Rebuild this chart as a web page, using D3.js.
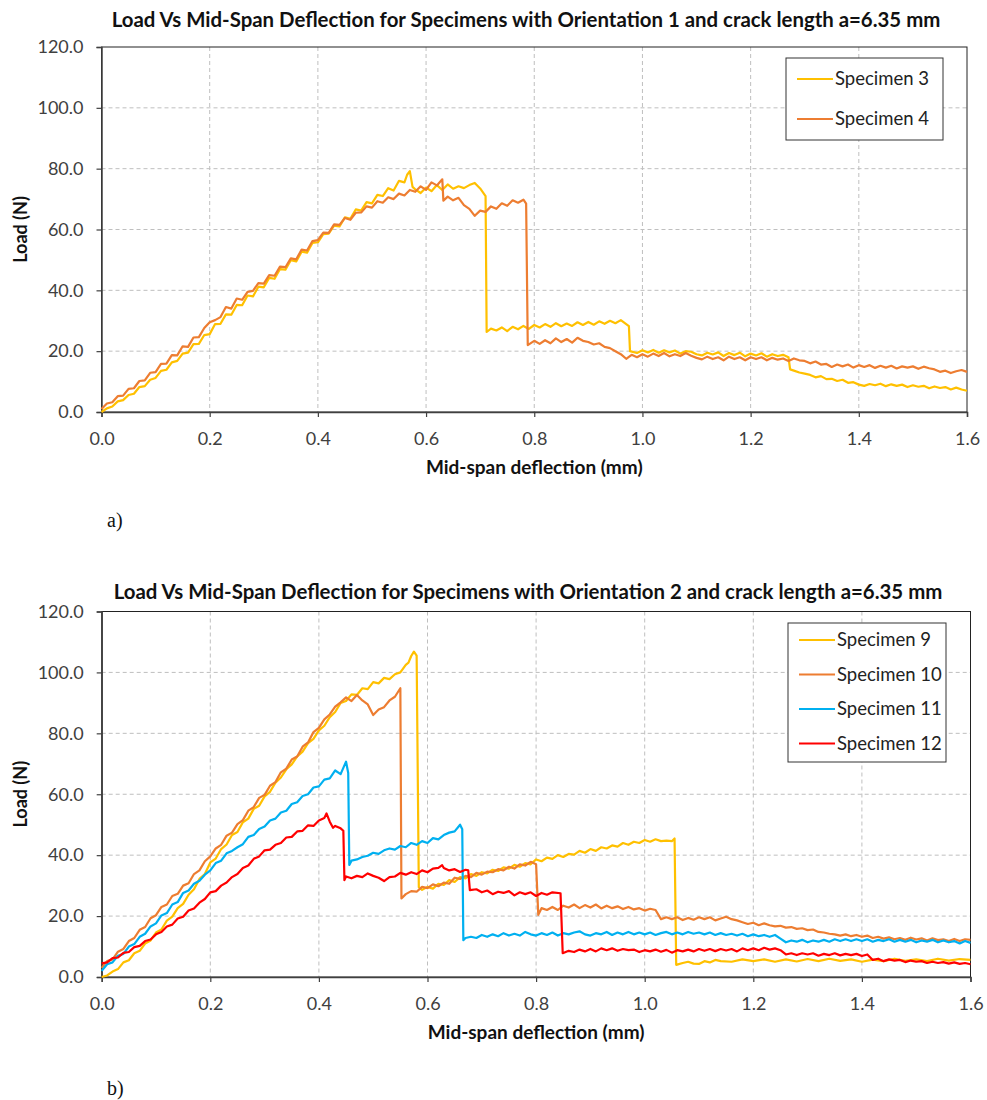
<!DOCTYPE html>
<html>
<head>
<meta charset="utf-8">
<script src="https://cdn.jsdelivr.net/npm/d3@7"></script>
<style>
  body { margin: 0; background: #fff; }
  svg { display: block; }
  .tick text { font-family: Lato, "Open Sans", sans-serif; font-size: 18px; fill: #404040; }
</style>
</head>
<body>
<div id="chart"></div>
<script>
// Load vs mid-span deflection, two panels (a and b)

const width = 987;
const height = 1100;

// x ticks and y ticks shared by both panels
const xTicks = [0, 0.2, 0.4, 0.6, 0.8, 1.0, 1.2, 1.4, 1.6];
const yTicks = [0, 20, 40, 60, 80, 100, 120];

// panel a: orientation 1
const namesA = ["Specimen 3", "Specimen 4"];
const colorsA = ["#FFC000", "#ED7D31"];

const spec3 = [
  [0,0.0],[0.01,1.2],[0.02,1.8],[0.03,3.5],[0.04,3.9],[0.05,5.6],[0.06,6.0],[0.07,8.2],
  [0.08,8.5],[0.09,10.6],[0.10,11.2],[0.11,13.5],[0.12,13.9],[0.13,16.3],[0.14,16.8],[0.15,19.2],
  [0.16,19.5],[0.17,22.3],[0.18,22.4],[0.19,25.3],[0.20,25.6],[0.21,28.9],[0.22,29.0],[0.23,32.1],
  [0.24,32.0],[0.25,35.2],[0.26,35.1],[0.27,38.3],[0.28,38.0],[0.29,41.2],[0.30,41.0],[0.31,44.1],
  [0.32,43.8],[0.33,47.0],[0.34,46.8],[0.35,49.9],[0.36,49.5],[0.37,52.7],[0.38,52.4],[0.39,55.6],
  [0.40,55.8],[0.41,58.5],[0.42,58.6],[0.43,61.3],[0.44,61.0],[0.45,64.0],[0.46,63.5],[0.47,66.6],
  [0.48,66.2],[0.49,69.0],[0.50,68.6],[0.51,71.4],[0.52,71.0],[0.53,73.6],[0.54,72.8],[0.55,76.0],
  [0.56,75.5],[0.565,78.0],[0.57,79.2],[0.575,74.0],[0.58,73.2],[0.59,72.0],[0.60,73.8],[0.61,72.6],
  [0.62,74.6],[0.63,73.0],[0.64,74.8],[0.65,73.4],[0.66,74.2],[0.67,73.6],[0.68,74.6],[0.69,75.3],
  [0.70,73.5],[0.71,71.0],[0.712,26.3],[0.72,27.4],[0.73,26.8],[0.74,27.8],[0.75,26.6],[0.76,28.0],
  [0.77,27.2],[0.78,28.3],[0.79,27.3],[0.80,28.6],[0.81,27.8],[0.82,28.9],[0.83,28.0],[0.84,29.2],
  [0.85,28.2],[0.86,29.1],[0.87,28.3],[0.88,29.5],[0.89,28.6],[0.90,29.6],[0.91,28.7],[0.92,29.8],
  [0.93,29.0],[0.94,30.0],[0.95,29.2],[0.96,30.2],[0.975,28.2],[0.977,20.0],[0.99,19.4],[1.00,20.3],
  [1.01,19.6],[1.02,20.4],[1.03,19.5],[1.04,20.3],[1.05,19.6],[1.06,20.2],[1.07,19.2],[1.08,20.0],
  [1.09,19.8],[1.10,19.0],[1.11,18.6],[1.12,19.5],[1.13,18.9],[1.14,19.6],[1.15,18.4],[1.16,19.4],
  [1.17,18.7],[1.18,19.5],[1.19,18.3],[1.20,19.2],[1.21,18.6],[1.22,19.3],[1.23,18.2],[1.24,19.0],
  [1.25,18.4],[1.26,18.8],[1.27,18.0],[1.273,14.0],[1.28,13.6],[1.29,13.0],[1.30,12.6],[1.31,12.2],
  [1.32,11.4],[1.33,11.8],[1.34,10.8],[1.35,10.9],[1.36,10.2],[1.37,10.6],[1.38,9.6],[1.39,9.8],
  [1.40,9.0],[1.41,8.6],[1.42,9.2],[1.43,8.8],[1.44,9.3],[1.45,8.5],[1.46,9.1],[1.47,8.6],
  [1.48,9.0],[1.49,8.2],[1.50,8.8],[1.51,8.3],[1.52,8.6],[1.53,7.8],[1.54,8.4],[1.55,7.9],
  [1.56,8.2],[1.57,7.4],[1.58,8.0],[1.59,7.4],[1.60,7.0]
];

const spec4 = [
  [0,1.0],[0.01,2.8],[0.02,3.2],[0.03,5.2],[0.04,5.4],[0.05,7.6],[0.06,7.8],[0.07,10.2],
  [0.08,10.4],[0.09,12.9],[0.10,13.1],[0.11,15.8],[0.12,15.9],[0.13,18.7],[0.14,18.6],[0.15,21.6],
  [0.16,21.4],[0.17,24.5],[0.18,24.6],[0.19,27.6],[0.20,29.5],[0.21,30.2],[0.22,31.2],[0.23,34.5],
  [0.24,34.0],[0.25,37.3],[0.26,36.9],[0.27,39.5],[0.28,39.8],[0.29,42.4],[0.30,42.2],[0.31,45.0],
  [0.32,44.8],[0.33,47.8],[0.34,47.6],[0.35,50.5],[0.36,50.2],[0.37,53.4],[0.38,53.1],[0.39,56.2],
  [0.40,56.5],[0.41,59.0],[0.42,58.9],[0.43,61.7],[0.44,61.5],[0.45,63.8],[0.46,63.2],[0.47,65.5],
  [0.48,65.6],[0.49,67.6],[0.50,67.2],[0.51,69.3],[0.52,68.8],[0.53,70.6],[0.54,70.0],[0.55,71.8],
  [0.56,71.2],[0.57,73.0],[0.58,72.4],[0.59,74.2],[0.60,73.0],[0.61,75.5],[0.62,74.5],[0.63,76.5],
  [0.632,69.5],[0.64,70.8],[0.65,69.6],[0.66,70.4],[0.67,68.0],[0.68,66.8],[0.69,64.5],[0.70,66.2],
  [0.71,65.8],[0.72,67.6],[0.73,66.8],[0.74,68.6],[0.75,67.8],[0.76,69.6],[0.77,68.8],[0.78,69.8],
  [0.785,68.5],[0.788,22.0],[0.80,23.4],[0.81,22.4],[0.82,23.6],[0.83,22.6],[0.84,24.2],[0.85,23.0],
  [0.86,24.0],[0.87,22.8],[0.88,24.4],[0.89,23.4],[0.90,23.0],[0.91,22.2],[0.92,22.6],[0.93,21.4],
  [0.94,21.0],[0.95,20.0],[0.96,19.0],[0.97,17.5],[0.98,18.8],[0.99,18.0],[1.00,19.0],[1.01,18.2],
  [1.02,19.2],[1.03,18.4],[1.04,19.4],[1.05,18.3],[1.06,19.0],[1.07,18.4],[1.08,19.4],[1.09,18.5],
  [1.10,17.8],[1.11,17.3],[1.12,18.2],[1.13,17.4],[1.14,18.0],[1.15,17.0],[1.16,18.2],[1.17,17.4],
  [1.18,18.0],[1.19,17.0],[1.20,18.0],[1.21,17.4],[1.22,18.0],[1.23,17.0],[1.24,17.8],[1.25,17.2],
  [1.26,17.6],[1.27,16.8],[1.28,17.6],[1.29,17.0],[1.30,16.8],[1.31,16.0],[1.32,16.6],[1.33,15.6],
  [1.34,15.8],[1.35,14.8],[1.36,15.6],[1.37,15.0],[1.38,15.6],[1.39,14.6],[1.40,15.4],[1.41,14.8],
  [1.42,15.4],[1.43,14.5],[1.44,15.2],[1.45,14.6],[1.46,15.2],[1.47,14.3],[1.48,15.0],[1.49,14.6],
  [1.50,15.0],[1.51,14.2],[1.52,14.9],[1.53,14.4],[1.54,14.0],[1.55,13.2],[1.56,13.6],[1.57,12.8],
  [1.58,13.4],[1.59,13.8],[1.60,13.2]
];

// panel b: orientation 2
const namesB = ["Specimen 9", "Specimen 10", "Specimen 11", "Specimen 12"];
const colorsB = ["#FFC000", "#ED7D31", "#00B0F0", "#FF0000"];

const spec9 = [
  [0,0.0],[0.01,0.5],[0.02,1.8],[0.03,2.6],[0.04,4.8],[0.05,5.5],[0.06,7.8],[0.07,8.6],
  [0.08,11.0],[0.09,12.0],[0.10,14.6],[0.11,15.6],[0.12,18.5],[0.13,19.8],[0.14,22.6],[0.15,24.0],
  [0.16,27.0],[0.17,28.8],[0.18,32.2],[0.19,33.8],[0.20,37.6],[0.21,38.9],[0.22,42.0],[0.23,43.5],
  [0.24,46.6],[0.25,47.6],[0.26,50.8],[0.27,52.0],[0.28,55.2],[0.29,56.2],[0.30,59.3],[0.31,60.8],
  [0.32,63.8],[0.33,65.5],[0.34,68.2],[0.35,69.8],[0.36,72.4],[0.37,74.0],[0.38,76.8],[0.39,78.2],
  [0.40,81.0],[0.41,82.5],[0.42,85.3],[0.43,87.0],[0.44,90.0],[0.45,90.6],[0.46,92.8],[0.47,92.6],
  [0.48,94.8],[0.49,94.5],[0.50,96.8],[0.51,96.4],[0.52,98.2],[0.53,97.8],[0.54,99.4],[0.55,100.0],
  [0.56,102.5],[0.565,103.2],[0.57,105.4],[0.575,106.8],[0.58,105.5],[0.584,29.5],[0.59,28.6],
  [0.60,29.6],[0.61,29.0],[0.62,30.6],[0.63,30.2],[0.64,31.8],[0.65,31.2],[0.66,32.8],[0.67,32.4],
  [0.68,33.8],[0.69,33.2],[0.70,34.4],[0.71,34.0],[0.72,35.2],[0.73,34.8],[0.74,36.0],[0.75,35.6],
  [0.76,36.8],[0.77,36.2],[0.78,37.4],[0.79,37.0],[0.80,38.6],[0.81,38.0],[0.82,39.2],[0.83,38.8],
  [0.84,40.0],[0.85,39.4],[0.86,40.4],[0.87,40.2],[0.88,41.4],[0.89,40.8],[0.90,42.0],[0.91,41.4],
  [0.92,42.6],[0.93,42.2],[0.94,43.2],[0.95,42.8],[0.96,44.0],[0.97,43.4],[0.98,44.4],[0.99,44.0],
  [1.00,45.0],[1.01,44.4],[1.02,45.2],[1.03,44.6],[1.04,44.8],[1.05,44.6],[1.055,45.5],[1.058,4.0],
  [1.07,4.6],[1.08,5.0],[1.09,4.4],[1.10,4.3],[1.11,5.2],[1.12,4.8],[1.13,5.6],[1.14,5.2],
  [1.16,5.0],[1.18,5.8],[1.20,5.2],[1.22,5.8],[1.24,5.0],[1.26,5.8],[1.28,5.1],[1.30,5.9],
  [1.32,5.2],[1.34,6.0],[1.36,5.3],[1.38,5.8],[1.40,5.0],[1.42,5.7],[1.44,5.2],[1.46,6.0],
  [1.48,5.3],[1.50,5.8],[1.52,5.2],[1.54,6.0],[1.56,5.4],[1.58,5.9],[1.60,5.6]
];

const spec10 = [
  [0,3.0],[0.01,5.2],[0.02,5.8],[0.03,8.3],[0.04,9.2],[0.05,11.8],[0.06,12.8],[0.07,15.5],
  [0.08,16.4],[0.09,19.3],[0.10,20.3],[0.11,23.0],[0.12,23.8],[0.13,26.6],[0.14,27.3],[0.15,30.0],
  [0.16,30.8],[0.17,33.8],[0.18,35.0],[0.19,38.0],[0.20,39.6],[0.21,42.2],[0.22,43.4],[0.23,46.4],
  [0.24,47.4],[0.25,50.2],[0.26,51.5],[0.27,54.6],[0.28,55.8],[0.29,58.8],[0.30,59.8],[0.31,62.8],
  [0.32,64.0],[0.33,67.2],[0.34,68.4],[0.35,71.4],[0.36,72.4],[0.37,75.6],[0.38,77.0],[0.39,80.4],
  [0.40,81.8],[0.41,84.6],[0.42,86.2],[0.43,88.8],[0.44,90.2],[0.45,91.8],[0.46,90.6],[0.47,92.6],
  [0.48,90.8],[0.49,89.5],[0.50,86.0],[0.51,87.8],[0.52,88.6],[0.53,90.8],[0.54,92.0],[0.55,94.8],
  [0.552,25.8],[0.56,27.2],[0.57,28.2],[0.58,28.0],[0.59,29.6],[0.60,29.2],[0.61,30.4],[0.62,29.8],
  [0.63,31.0],[0.64,30.6],[0.65,32.6],[0.66,32.2],[0.67,33.2],[0.68,32.8],[0.69,34.2],[0.70,33.6],
  [0.71,34.6],[0.72,34.4],[0.73,35.4],[0.74,35.0],[0.75,36.2],[0.76,35.6],[0.77,37.0],[0.78,36.6],
  [0.79,37.8],[0.80,37.0],[0.804,20.4],[0.81,22.6],[0.82,22.0],[0.83,23.0],[0.84,22.0],[0.85,23.4],
  [0.86,22.8],[0.87,23.8],[0.88,22.6],[0.89,23.6],[0.90,22.8],[0.91,23.8],[0.92,22.5],[0.93,23.4],
  [0.94,22.6],[0.95,23.2],[0.96,22.3],[0.97,23.0],[0.98,22.2],[0.99,22.6],[1.00,21.8],[1.01,22.4],
  [1.02,22.0],[1.03,19.0],[1.04,19.6],[1.05,19.0],[1.06,19.6],[1.07,18.7],[1.08,19.4],[1.09,18.8],
  [1.10,19.6],[1.11,19.0],[1.12,19.6],[1.13,18.6],[1.14,19.2],[1.15,19.8],[1.16,19.0],[1.17,18.6],
  [1.18,18.0],[1.19,17.4],[1.20,17.8],[1.21,17.0],[1.22,17.6],[1.23,17.0],[1.24,16.6],[1.25,16.8],
  [1.26,16.2],[1.27,16.4],[1.28,15.8],[1.29,16.0],[1.30,15.4],[1.31,15.6],[1.32,14.8],[1.33,14.6],
  [1.34,14.2],[1.35,14.0],[1.36,13.6],[1.37,14.0],[1.38,13.4],[1.39,13.8],[1.40,13.2],[1.41,13.6],
  [1.42,12.8],[1.43,13.2],[1.44,12.6],[1.45,13.0],[1.46,12.4],[1.47,12.8],[1.48,12.2],[1.49,12.9],
  [1.50,12.3],[1.51,12.7],[1.52,12.0],[1.53,12.7],[1.54,12.1],[1.55,12.4],[1.56,11.8],[1.57,12.5],
  [1.58,11.8],[1.59,12.4],[1.60,12.2]
];

const spec11 = [
  [0,2.0],[0.01,4.2],[0.02,4.8],[0.03,7.0],[0.04,7.6],[0.05,10.0],[0.06,10.8],[0.07,13.2],
  [0.08,14.2],[0.09,16.6],[0.10,17.6],[0.11,20.2],[0.12,21.0],[0.13,23.8],[0.14,24.6],[0.15,27.6],
  [0.16,28.4],[0.17,30.6],[0.18,31.6],[0.19,33.6],[0.20,35.0],[0.21,37.4],[0.22,38.2],[0.23,40.6],
  [0.24,41.4],[0.25,42.6],[0.26,43.6],[0.27,46.0],[0.28,46.6],[0.29,48.6],[0.30,49.4],[0.31,51.4],
  [0.32,52.0],[0.33,54.0],[0.34,54.6],[0.35,56.8],[0.36,57.4],[0.37,59.4],[0.38,60.0],[0.39,62.2],
  [0.40,62.6],[0.41,64.8],[0.42,65.2],[0.43,67.8],[0.44,66.6],[0.45,70.7],[0.454,67.0],[0.456,36.8],
  [0.46,38.2],[0.47,38.6],[0.48,39.4],[0.49,39.8],[0.50,40.8],[0.51,40.4],[0.52,41.6],[0.53,42.2],
  [0.54,41.8],[0.55,43.0],[0.56,42.6],[0.57,44.0],[0.58,43.4],[0.59,44.6],[0.60,44.0],[0.61,45.6],
  [0.62,45.2],[0.63,46.6],[0.64,47.4],[0.65,47.8],[0.66,50.0],[0.664,48.5],[0.666,12.1],[0.67,12.8],
  [0.68,13.2],[0.69,12.8],[0.70,13.8],[0.71,13.2],[0.72,14.0],[0.73,13.4],[0.74,14.4],[0.75,13.6],
  [0.76,14.2],[0.77,13.6],[0.78,14.8],[0.79,14.0],[0.80,13.6],[0.81,14.4],[0.82,13.8],[0.83,14.6],
  [0.84,13.6],[0.85,14.4],[0.86,14.0],[0.87,14.6],[0.88,15.0],[0.89,14.0],[0.90,13.6],[0.91,14.4],
  [0.92,14.0],[0.93,14.8],[0.94,13.8],[0.95,14.6],[0.96,14.0],[0.97,14.8],[0.98,14.0],[0.99,14.6],
  [1.00,14.0],[1.01,14.6],[1.02,13.8],[1.03,14.4],[1.04,14.8],[1.05,14.0],[1.06,14.6],[1.07,14.0],
  [1.08,14.8],[1.09,14.2],[1.10,14.6],[1.11,14.0],[1.12,14.6],[1.13,13.8],[1.14,14.4],[1.15,13.8],
  [1.16,14.2],[1.17,13.6],[1.18,14.2],[1.19,13.4],[1.20,14.0],[1.21,13.4],[1.22,13.8],[1.23,13.2],
  [1.24,13.8],[1.25,12.6],[1.26,11.4],[1.27,12.0],[1.28,11.6],[1.29,12.2],[1.30,11.4],[1.31,12.0],
  [1.32,11.6],[1.33,12.2],[1.34,11.6],[1.35,12.4],[1.36,11.8],[1.37,12.4],[1.38,11.8],[1.39,12.4],
  [1.40,11.8],[1.41,12.4],[1.42,11.6],[1.43,12.2],[1.44,11.8],[1.45,12.4],[1.46,11.6],[1.47,12.2],
  [1.48,11.6],[1.49,12.2],[1.50,11.4],[1.51,12.0],[1.52,11.6],[1.53,12.2],[1.54,11.4],[1.55,12.0],
  [1.56,11.4],[1.57,11.8],[1.58,11.0],[1.59,11.8],[1.60,11.2]
];

const spec12 = [
  [0,4.5],[0.01,4.8],[0.02,6.2],[0.03,6.4],[0.04,7.9],[0.05,8.2],[0.06,9.8],[0.07,10.2],
  [0.08,11.8],[0.09,12.3],[0.10,14.0],[0.11,14.8],[0.12,16.6],[0.13,17.2],[0.14,19.2],[0.15,19.8],
  [0.16,21.8],[0.17,22.5],[0.18,24.4],[0.19,25.6],[0.20,27.8],[0.21,28.2],[0.22,30.0],[0.23,31.0],
  [0.24,32.8],[0.25,33.8],[0.26,35.8],[0.27,36.6],[0.28,38.8],[0.29,39.6],[0.30,41.6],[0.31,41.8],
  [0.32,43.4],[0.33,44.0],[0.34,45.8],[0.35,46.0],[0.36,47.8],[0.37,48.0],[0.38,49.8],[0.39,49.6],
  [0.40,51.4],[0.41,52.2],[0.414,53.7],[0.42,51.0],[0.426,49.0],[0.43,49.6],[0.44,48.8],[0.445,48.0],
  [0.447,31.8],[0.45,33.0],[0.46,32.4],[0.47,33.2],[0.48,32.8],[0.49,34.0],[0.50,33.2],[0.51,32.6],
  [0.52,31.5],[0.53,32.8],[0.54,33.0],[0.55,34.2],[0.56,33.6],[0.57,34.4],[0.58,33.8],[0.59,35.0],
  [0.60,34.4],[0.61,35.6],[0.62,35.8],[0.627,36.7],[0.63,35.8],[0.64,35.0],[0.65,35.4],[0.66,34.5],
  [0.67,35.2],[0.675,35.0],[0.678,28.5],[0.69,28.8],[0.70,27.8],[0.71,28.4],[0.72,27.2],[0.73,28.0],
  [0.74,27.6],[0.75,28.2],[0.76,26.8],[0.77,27.8],[0.78,27.2],[0.79,27.8],[0.80,26.6],[0.81,27.6],
  [0.82,27.0],[0.83,27.8],[0.845,27.5],[0.849,7.8],[0.86,8.6],[0.87,8.2],[0.88,9.0],[0.89,8.4],
  [0.90,9.2],[0.91,8.4],[0.92,9.4],[0.93,8.8],[0.94,9.4],[0.95,8.6],[0.96,9.2],[0.97,8.8],
  [0.98,9.0],[0.99,8.2],[1.00,8.8],[1.01,8.4],[1.02,9.0],[1.03,8.3],[1.04,8.9],[1.05,8.0],
  [1.06,8.8],[1.07,8.4],[1.08,9.0],[1.09,8.4],[1.10,9.2],[1.11,8.6],[1.12,9.2],[1.13,8.5],
  [1.14,9.2],[1.15,8.7],[1.16,9.2],[1.17,8.4],[1.18,9.4],[1.19,8.8],[1.20,9.4],[1.21,8.8],
  [1.22,9.6],[1.23,9.0],[1.24,9.4],[1.25,8.8],[1.26,7.4],[1.27,7.8],[1.28,7.2],[1.29,7.8],
  [1.30,7.4],[1.31,7.8],[1.32,7.0],[1.33,7.6],[1.34,7.2],[1.35,7.8],[1.36,7.1],[1.37,7.6],
  [1.38,7.2],[1.39,7.6],[1.40,6.9],[1.41,7.4],[1.42,5.6],[1.43,6.0],[1.44,5.2],[1.45,5.8],
  [1.46,5.4],[1.47,5.6],[1.48,4.9],[1.49,5.4],[1.50,5.0],[1.51,5.2],[1.52,4.6],[1.53,5.0],
  [1.54,4.6],[1.55,4.9],[1.56,4.4],[1.57,4.8],[1.58,4.3],[1.59,4.6],[1.60,4.2]
];

const svg = d3.select("#chart")
  .append("svg")
  .attr("width", width)
  .attr("height", height);

// draws one panel
function drawPanel(p) {
  const x = d3.scaleLinear().domain([0, 1.6]).range([p.left, p.right]);
  const y = d3.scaleLinear().domain([0, 120]).range([p.bottom, p.top]);
  const g = svg.append("g");

  // grid
  g.selectAll(".vgrid")
    .data(xTicks.slice(1, -1))
    .enter().append("line")
      .attr("x1", d => x(d)).attr("x2", d => x(d))
      .attr("y1", p.top).attr("y2", p.bottom)
      .attr("stroke", "#bfbfbf").attr("stroke-dasharray", "4,3");
  g.selectAll(".hgrid")
    .data(yTicks.slice(1, -1))
    .enter().append("line")
      .attr("x1", p.left).attr("x2", p.right)
      .attr("y1", d => y(d)).attr("y2", d => y(d))
      .attr("stroke", "#bfbfbf").attr("stroke-dasharray", "4,3");

  // frame
  g.append("rect")
    .attr("x", p.left).attr("y", p.top)
    .attr("width", p.right - p.left).attr("height", p.bottom - p.top)
    .attr("fill", "none").attr("stroke", "#222").attr("stroke-width", 1);

  // axes
  const yAxis = g.append("g")
    .attr("transform", `translate(${p.left},0)`)
    .call(d3.axisLeft(y).tickValues(yTicks).tickFormat(d3.format(".1f"))
      .tickSize(5).tickPadding(13));
  const xAxis = g.append("g")
    .attr("transform", `translate(0,${p.bottom})`)
    .call(d3.axisBottom(x).tickValues(xTicks).tickFormat(d3.format(".1f"))
      .tickSize(5).tickPadding(15));
  [yAxis, xAxis].forEach(a => {
    a.select(".domain").attr("stroke", "#404040").attr("stroke-width", 1.5);
    a.selectAll(".tick line").attr("stroke", "#404040").attr("stroke-width", 1.2);
  });

  // lines
  const line = d3.line().x(d => x(d[0])).y(d => y(d[1]));
  g.selectAll(".series")
    .data(p.series)
    .enter().append("path")
      .attr("d", d => line(d))
      .attr("fill", "none")
      .attr("stroke", (d, i) => p.colors[i])
      .attr("stroke-width", 2.2)
      .attr("stroke-linejoin", "round");

  // title and axis labels
  svg.append("text")
    .attr("x", p.titleX).attr("y", p.titleY)
    .attr("text-anchor", "middle")
    .attr("font-family", "Lato, sans-serif").attr("font-weight", "bold")
    .attr("font-size", 20.4).attr("fill", "#111")
    .text(p.title);
  svg.append("text")
    .attr("x", (p.left + p.right) / 2).attr("y", p.bottom + 62)
    .attr("text-anchor", "middle")
    .attr("font-family", "Lato, sans-serif").attr("font-weight", "bold")
    .attr("font-size", 19).attr("fill", "#111")
    .text("Mid-span deflection (mm)");
  svg.append("text")
    .attr("transform", `translate(27,${(p.top + p.bottom) / 2}) rotate(-90)`)
    .attr("text-anchor", "middle")
    .attr("font-family", "Lato, sans-serif").attr("font-weight", "bold")
    .attr("font-size", 18).attr("fill", "#111")
    .text("Load (N)");

  // legend
  const lg = svg.append("g");
  lg.append("rect")
    .attr("x", p.legX).attr("y", p.legY)
    .attr("width", p.legW).attr("height", p.legH)
    .attr("fill", "#fff").attr("stroke", "#333");
  p.names.forEach((n, i) => {
    const cy = p.legY + p.legFirst + i * p.legStep;
    lg.append("line")
      .attr("x1", p.legX + 11).attr("x2", p.legX + 47)
      .attr("y1", cy).attr("y2", cy)
      .attr("stroke", p.colors[i]).attr("stroke-width", 2);
    lg.append("text")
      .attr("x", p.legX + 49).attr("y", cy + 6)
      .attr("font-family", "Lato, sans-serif").attr("font-size", 18.5)
      .attr("fill", "#222")
      .text(n);
  });

  // panel letter
  svg.append("text")
    .attr("x", 107).attr("y", p.letterY)
    .attr("font-family", "Liberation Serif, serif").attr("font-size", 20)
    .attr("fill", "#111")
    .text(p.letter);
}

drawPanel({
  left: 101.5, right: 967, top: 47, bottom: 412,
  series: [spec3, spec4], colors: colorsA, names: namesA,
  title: "Load Vs Mid-Span Deflection for Specimens with Orientation 1 and crack length a=6.35 mm",
  titleX: 526, titleY: 27,
  legX: 786, legY: 58, legW: 157, legH: 82, legFirst: 21, legStep: 40,
  letter: "a)", letterY: 527
});

drawPanel({
  left: 101.7, right: 970.5, top: 611.5, bottom: 977,
  series: [spec9, spec10, spec11, spec12], colors: colorsB, names: namesB,
  title: "Load Vs Mid-Span Deflection for Specimens with Orientation 2 and crack length a=6.35 mm",
  titleX: 528, titleY: 599,
  legX: 788, legY: 623, legW: 158, legH: 139, legFirst: 17, legStep: 34.5,
  letter: "b)", letterY: 1095
});
</script>
</body>
</html>
